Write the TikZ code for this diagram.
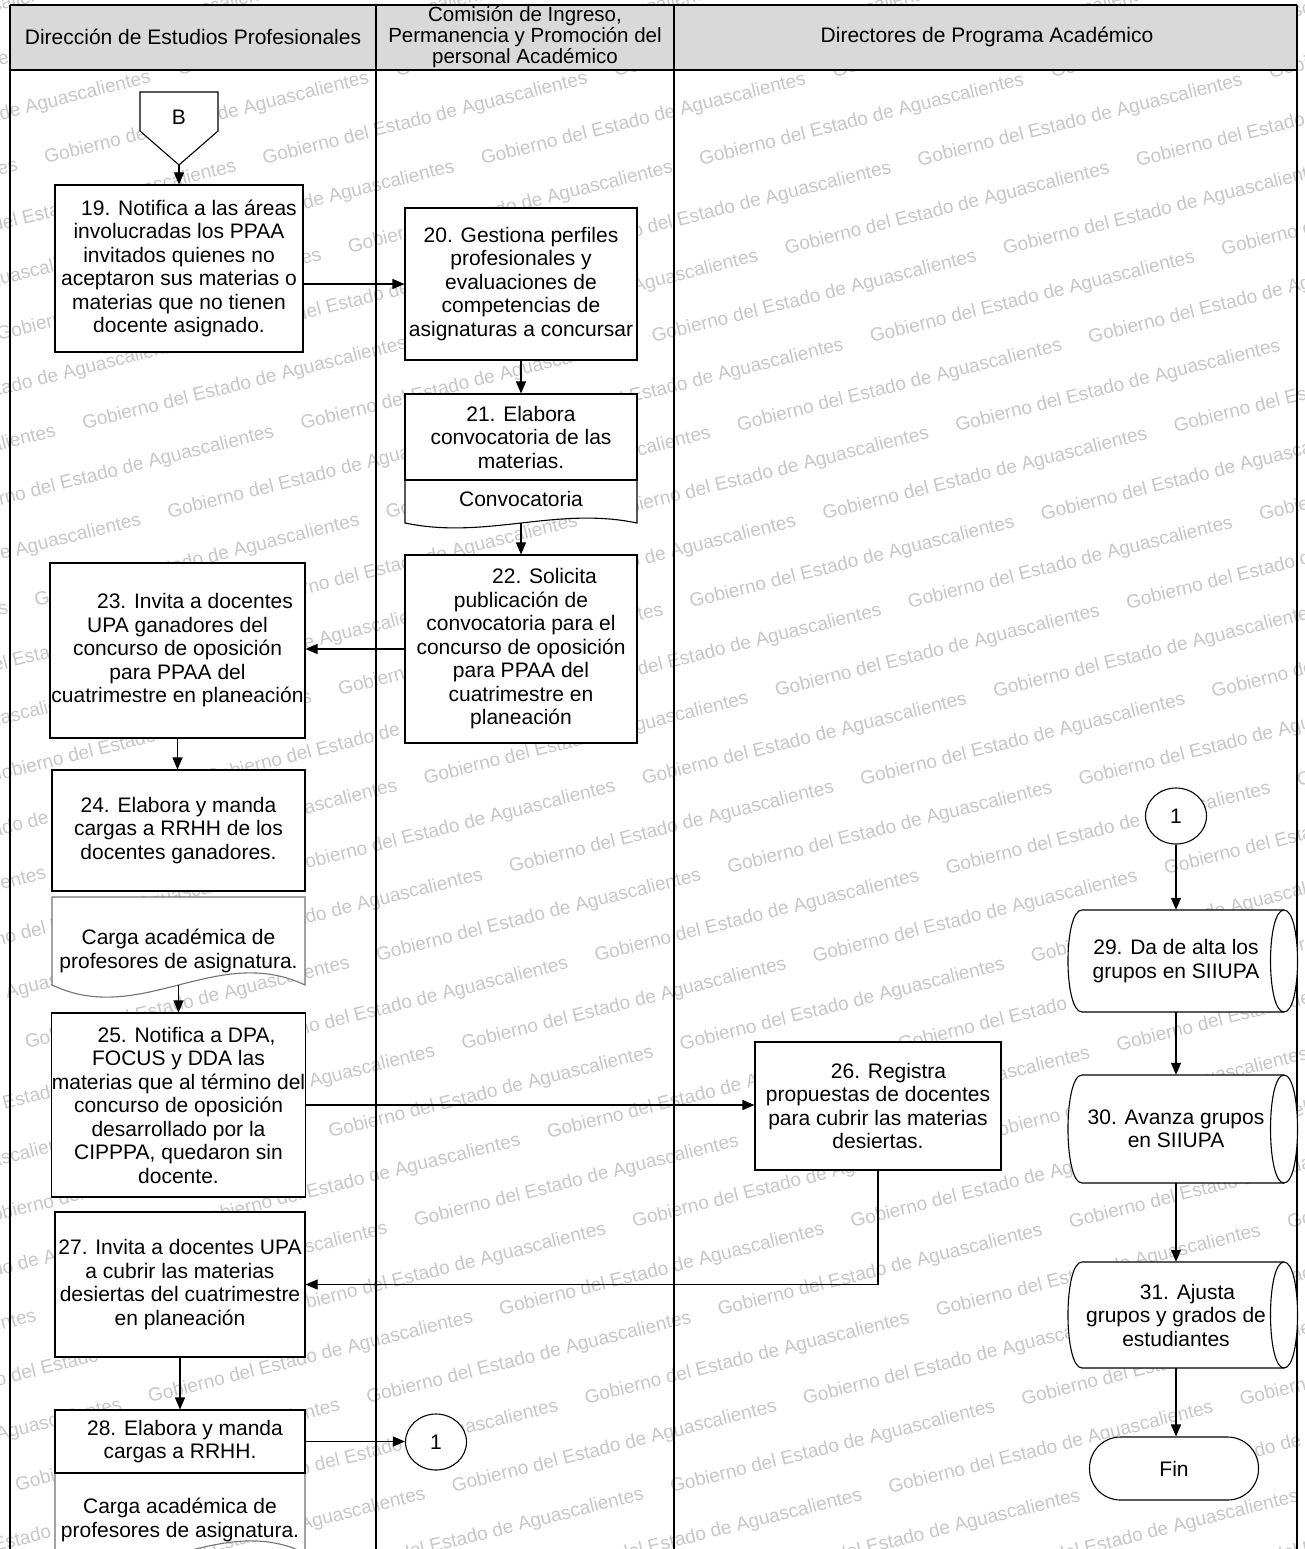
\documentclass[tikz,border=0pt]{standalone}
\usepackage{fontspec}
\setmainfont{Liberation Sans}
\usetikzlibrary{arrows.meta,shapes.geometric,calc}
\newcommand\wmphrase{Gobierno del Estado de Aguascalientes}
\newcommand\storeshape[2]{%
  \draw[ln, fill=white] (1082,#1) -- (1284,#1) .. controls (1302,#1) and (1302,#2) .. (1284,#2) -- (1082,#2) .. controls (1063.3,#2) and (1063.3,#1) .. (1082,#1) -- cycle;
  \draw[ln] (1284,#1) .. controls (1266,#1) and (1266,#2) .. (1284,#2);}
\begin{document}
\begin{tikzpicture}[x=1pt,y=-1pt,
  txt/.style={font=\fontsize{21}{23.5}\selectfont, align=center, inner sep=0pt},
  bx/.style={txt, draw, fill=white, line width=1.1pt},
  conn/.style={txt, ellipse, draw, fill=white, line width=1.1pt, minimum width=61pt, minimum height=56pt},
  arr/.style={line width=1.1pt, -{Triangle[length=12pt,width=10pt]}},
  ln/.style={line width=1.1pt},
  frame/.style={line width=1.6pt},
  wm/.style={font=\fontsize{19}{19}\selectfont, text=black!22, rotate=14, anchor=west, inner sep=0pt},
  docl/.style={line width=1.1pt, draw=black!55, fill=white},
]
\useasboundingbox (0,0) rectangle (1304,1549);
\fill[white] (0,0) rectangle (1304,1549);
% watermark: straight rows at 14 degrees, one phrase per node, only where it shows
\begin{scope}
\clip (0,0) rectangle (1304,1549);
\foreach \i in {-1,...,37}{
  \foreach \k in {0,...,7}{
    \pgfmathsetmacro\sh{mod((\i+10)*137,362)}
    \pgfmathsetmacro\px{-420-\sh*cos(14)+\k*362*cos(14)}
    \pgfmathsetmacro\py{\i*55+\sh*sin(14)-\k*362*sin(14)}
    \pgfmathsetmacro\cx{\px+167*cos(14)}
    \pgfmathsetmacro\cy{\py-167*sin(14)}
    \pgfmathtruncatemacro\vis{and(and(\cx>-165,\cx<1469),and(\cy>-45,\cy<1595))}
    \ifnum\vis=1
      \node[wm] (wm-\i-\k) at (\px,\py) {\wmphrase};
    \fi
  }
}
\end{scope}
% header and lanes
\fill[black!15] (10,5) rectangle (1297,70);
\draw[frame] (10,5) -- (1297,5);
\draw[frame] (10,70) -- (1297,70);
\draw[frame] (10,5) -- (10,1552);
\draw[frame] (376,5) -- (376,1552);
\draw[frame] (674,5) -- (674,1552);
\draw[frame] (1297,5) -- (1297,1552);
\node[txt] (hA) at (193,37) {Dirección de Estudios Profesionales};
\node[txt, font=\fontsize{20.5}{21.3}\selectfont] (hB) at (525,37) {Comisión de Ingreso,\\Permanencia y Promoción del\\personal Académico};
\node[txt] (hC) at (987,37) {Directores de Programa Académico};
% off-page connector B
\draw[ln, fill=white] (140,92) -- (218,92) -- (218,131) -- (179,165) -- (140,131) -- cycle;
\node[txt] (B) at (179,117) {B};
\coordinate (Bp) at (179,165);
% lane 1 / lane 2 boxes
\node[bx, minimum width=248pt, minimum height=167pt] (n19) at (179,268.5) {\hspace*{20pt}19. Notifica a las áreas\\involucradas los PPAA\\invitados quienes no\\aceptaron sus materias o\\materias que no tienen\\docente asignado.};
\node[bx, minimum width=232pt, minimum height=152pt] (n20) at (521,284) {20. Gestiona perfiles\\profesionales y\\evaluaciones de\\competencias de\\asignaturas a concursar};
\draw[ln, fill=white] (405,480) -- (405,523) .. controls (486.2,540) and (555.8,506) .. (637,523) -- (637,480);
\node[bx, minimum width=232pt, minimum height=86pt] (n21) at (521,437) {21. Elabora\\convocatoria de las\\materias.};
\node[txt] (d21) at (521,499) {Convocatoria};
\coordinate (d21b) at (521,523);
\node[bx, minimum width=232pt, minimum height=188pt] (n22) at (521,649) {\hspace*{47pt}22. Solicita\\publicación de\\convocatoria para el\\concurso de oposición\\para PPAA del\\cuatrimestre en\\planeación};
\node[bx, minimum width=255pt, minimum height=175pt] (n23) at (177.5,650.5) {\hspace*{35pt}23. Invita a docentes\\UPA ganadores del\\concurso de oposición\\para PPAA del\\cuatrimestre en planeación};
\node[bx, minimum width=253pt, minimum height=121pt] (n24) at (178.5,830.5) {24. Elabora y manda\\cargas a RRHH de los\\docentes ganadores.};
\draw[docl] (52,897) -- (52,985) .. controls (140.5,1027) and (216.5,943) .. (305,985) -- (305,897) -- cycle;
\node[txt] (d24) at (178.5,951) {Carga académica de\\profesores de asignatura.};
\coordinate (d24b) at (178.5,985);
\node[bx, minimum width=253pt, minimum height=184pt] (n25) at (178.5,1105) {\hspace*{16pt}25. Notifica a DPA,\\FOCUS y DDA las\\materias que al término del\\concurso de oposición\\desarrollado por la\\CIPPPA, quedaron sin\\docente.};
\node[bx, minimum width=246pt, minimum height=128pt] (n26) at (878,1106) {\hspace*{21pt}26. Registra\\propuestas de docentes\\para cubrir las materias\\desiertas.};
\node[bx, minimum width=250pt, minimum height=145pt] (n27) at (180,1284.5) {27. Invita a docentes UPA\\a cubrir las materias\\desiertas del cuatrimestre\\en planeación};
\draw[docl] (55,1473) -- (55,1553) .. controls (142.5,1595) and (217.5,1511) .. (305,1553) -- (305,1473);
\node[bx, minimum width=250pt, minimum height=63pt] (n28) at (180,1441.5) {\hspace*{10pt}28. Elabora y manda\\cargas a RRHH.};
\node[txt] (d28) at (180,1520) {Carga académica de\\profesores de asignatura.};
\node[conn] (c1a) at (436,1442) {1};
% lane 3
\node[conn] (c1b) at (1176,816) {1};
\storeshape{910}{1012}
\node[txt, minimum width=180pt, minimum height=102pt] (s29) at (1176,961) {29. Da de alta los\\grupos en SIIUPA};
\storeshape{1075}{1183}
\node[txt, minimum width=180pt, minimum height=108pt] (s30) at (1176,1129) {30. Avanza grupos\\en SIIUPA};
\storeshape{1262}{1368}
\node[txt, minimum width=180pt, minimum height=106pt] (s31) at (1176,1315) {\hspace*{23pt}31. Ajusta\\grupos y grados de\\estudiantes};
\node[bx, rounded corners=31pt, minimum width=169pt, minimum height=63pt] (fin) at (1174,1468.5) {Fin};
% connectors
\draw[arr] (Bp) -- (n19.north);
\draw[arr] (n19.east |- n20.west) -- (n20.west);
\draw[arr] (n20.south) -- (n21.north);
\draw[arr] (d21b) -- (n22.north);
\draw[arr] (n22.west) -- (n22.west -| n23.east);
\draw[arr] (n23.south) -- (n23.south |- n24.north);
\draw[arr] (d24b) -- (n25.north);
\draw[arr] (n25.east) -- (n25.east -| n26.west);
\draw[arr] (n26.south) |- (n27.east);
\draw[arr] (n27.south) -- (n28.north);
\draw[arr] (n28.east) -- (n28.east -| c1a.west);
\draw[arr] (c1b.south) -- (s29.north);
\draw[arr] (s29.south) -- (s30.north);
\draw[arr] (s30.south) -- (s31.north);
\draw[arr] (s31.south) -- (s31.south |- fin.north);
\end{tikzpicture}
\end{document}
